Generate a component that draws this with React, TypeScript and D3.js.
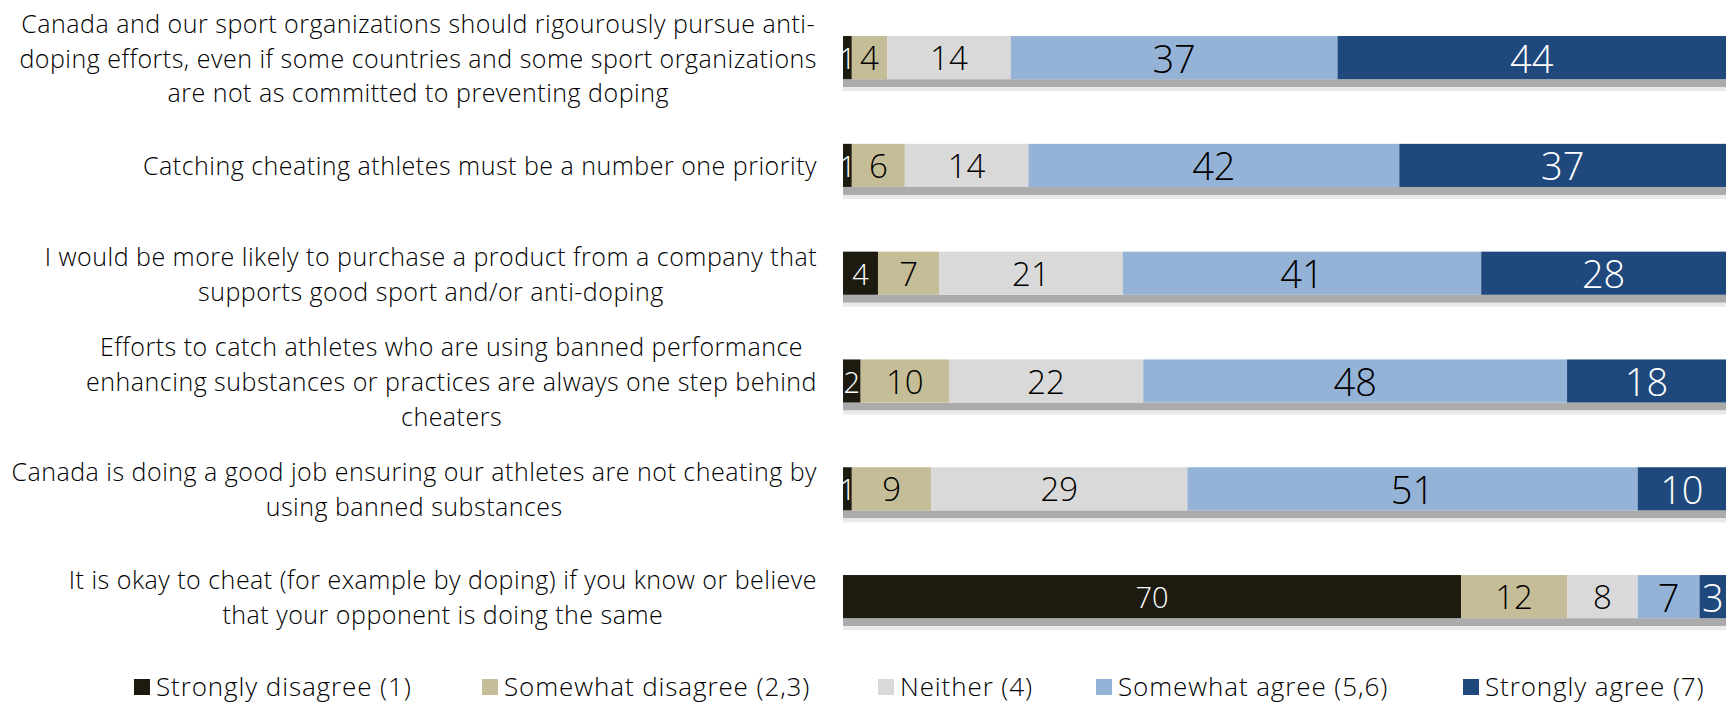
import React, { useEffect, useRef } from "react";
import * as d3 from "d3";

const categories = [
  "Canada and our sport organizations should rigourously pursue anti-\ndoping efforts, even if some countries and some sport organizations\nare not as committed to preventing doping",
  "Catching cheating athletes must be a number one priority",
  "I would be more likely to purchase a product from a company that\nsupports good sport and/or anti-doping",
  "Efforts to catch athletes who are using banned performance\nenhancing substances or practices are always one step behind\ncheaters",
  "Canada is doing a good job ensuring our athletes are not cheating by\nusing banned substances",
  "It is okay to cheat (for example by doping) if you know or believe\nthat your opponent is doing the same",
];

const seriesNames = [
  "Strongly disagree (1)",
  "Somewhat disagree (2,3)",
  "Neither (4)",
  "Somewhat agree (5,6)",
  "Strongly agree (7)",
];

const stronglyDisagree = [1, 1, 4, 2, 1, 70];
const somewhatDisagree = [4, 6, 7, 10, 9, 12];
const neither = [14, 14, 21, 22, 29, 8];
const somewhatAgree = [37, 42, 41, 48, 51, 7];
const stronglyAgree = [44, 37, 28, 18, 10, 3];

const seriesValues = [stronglyDisagree, somewhatDisagree, neither, somewhatAgree, stronglyAgree];

const colors = ["#1d1b10", "#c4bd97", "#d9d9d9", "#95b3d7", "#1f497d"];
const labelColors = ["#ffffff", "#000000", "#000000", "#000000", "#ffffff"];
const labelSizes = [29, 33, 33, 38, 38];
const legendX = [134, 482, 878, 1096, 1463];

const W = 1731;
const H = 704;
const FONT = "'Open Sans', 'Noto Sans', sans-serif";

export default function App() {
  const ref = useRef<SVGSVGElement>(null);

  useEffect(() => {
    const svg = d3.select(ref.current);
    svg.selectAll("*").remove();

    const rows = categories.map((c, i) => {
      const r: any = { cat: c };
      seriesNames.forEach((s, j) => (r[s] = seriesValues[j][i]));
      return r;
    });

    const stack = d3.stack<any>().keys(seriesNames).offset(d3.stackOffsetExpand);
    const layers = stack(rows);

    const x = d3.scaleLinear().domain([0, 1]).range([843, 1726]);
    const y = d3
      .scaleBand<string>()
      .domain(categories)
      .range([3.7, 650.5])
      .paddingInner(0.6)
      .paddingOuter(0.3);
    const bw = y.bandwidth();

    // shadows
    const sh = svg.append("g");
    categories.forEach((c) => {
      const y0 = (y(c) as number) + bw;
      sh.append("rect").attr("x", x(0)).attr("y", y0).attr("width", x(1) - x(0)).attr("height", 8).attr("fill", "#ababab");
      sh.append("rect").attr("x", x(0)).attr("y", y0 + 8).attr("width", x(1) - x(0)).attr("height", 4).attr("fill", "#e9e9e9");
    });

    // bars
    const g = svg.append("g");
    layers.forEach((layer, j) => {
      g.append("g")
        .selectAll("rect")
        .data(layer)
        .join("rect")
        .attr("x", (d) => x(d[0]))
        .attr("y", (d) => y(d.data.cat) as number)
        .attr("width", (d) => x(d[1]) - x(d[0]))
        .attr("height", bw)
        .attr("fill", colors[j]);
    });

    // labels
    layers.forEach((layer, j) => {
      g.append("g")
        .selectAll("text")
        .data(layer)
        .join("text")
        .attr("x", (d) => (x(d[0]) + x(d[1])) / 2)
        .attr("y", (d) => (y(d.data.cat) as number) + bw / 2)
        .attr("text-anchor", "middle")
        .attr("dominant-baseline", "central")
        .attr("font-family", FONT)
        .attr("font-weight", 300)
        .attr("font-size", labelSizes[j])
        .attr("fill", labelColors[j])
        .text((d) => String(seriesValues[j][categories.indexOf(d.data.cat)]));
    });

    // category labels
    const lineH = 34.8;
    const rightEdge = 817;
    const cg = svg.append("g");
    categories.forEach((c) => {
      const lines = c.split("\n");
      const cy = (y(c) as number) + bw / 2;
      const texts = lines.map((l, i) =>
        cg
          .append("text")
          .attr("y", cy + (i - (lines.length - 1) / 2) * lineH)
          .attr("text-anchor", "middle")
          .attr("dominant-baseline", "central")
          .attr("font-family", FONT)
          .attr("font-weight", 300)
          .attr("font-size", 25)
          .attr("letter-spacing", 0.5)
          .attr("fill", "#000")
          .text(l)
      );
      const maxW = d3.max(texts, (t) => (t.node() as SVGTextElement).getComputedTextLength()) || 0;
      texts.forEach((t) => t.attr("x", rightEdge - maxW / 2));
    });

    // legend
    const lg = svg.append("g");
    seriesNames.forEach((s, j) => {
      lg.append("rect").attr("x", legendX[j]).attr("y", 679).attr("width", 16).attr("height", 16).attr("fill", colors[j]);
      lg.append("text")
        .attr("x", legendX[j] + 22)
        .attr("y", 686)
        .attr("dominant-baseline", "central")
        .attr("font-family", FONT)
        .attr("font-weight", 300)
        .attr("font-size", 26)
        .attr("letter-spacing", 0.9)
        .attr("fill", "#000")
        .text(s);
    });
  }, []);

  return (
    <svg
      ref={ref}
      width={W}
      height={H}
      style={{ position: "absolute", left: 0, top: 0, background: "#fff" }}
    />
  );
}
